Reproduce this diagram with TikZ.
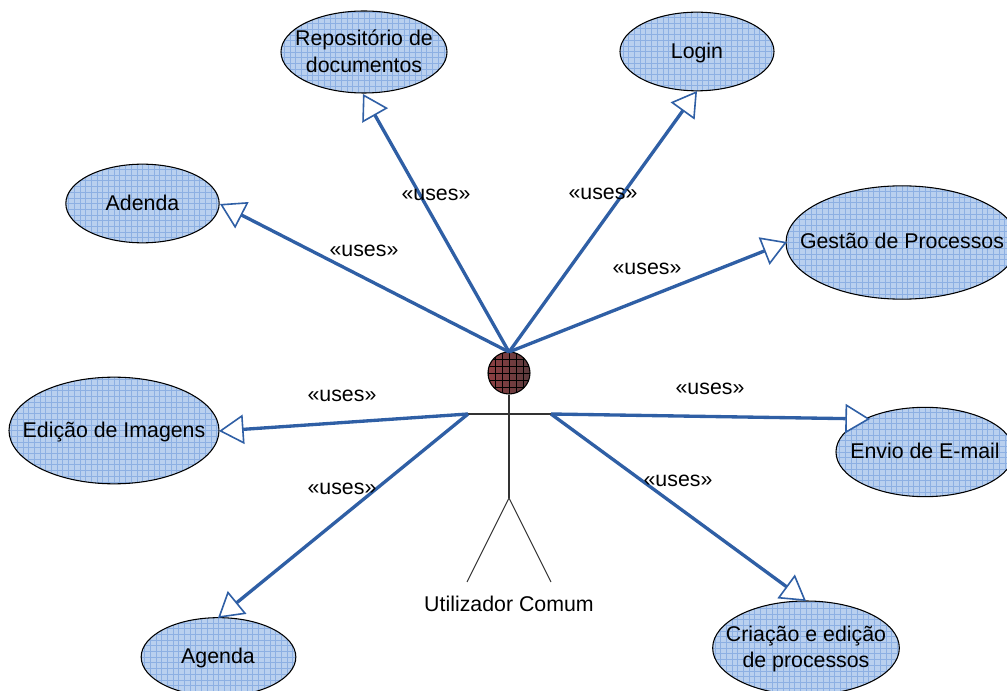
\documentclass[tikz,border=0pt]{standalone}
\usepackage{fontspec}
\setmainfont{Liberation Sans}
\usetikzlibrary{shapes.geometric,arrows.meta}
\definecolor{ucfill}{HTML}{B9D0EF}
\definecolor{ucgrid}{HTML}{8DB0E3}
\definecolor{conn}{HTML}{2F5FA5}
\definecolor{headred}{HTML}{8E3F42}
\definecolor{headmid}{HTML}{6E6A6A}
\definecolor{headdark}{HTML}{5A3A3C}
\tikzset{
  gridlines/.style={path picture={
    \begin{scope}[shift={(path picture bounding box.center)}]
      \foreach \i in {-24,...,24}{
        \draw[ucgrid,line width=0.4pt] (\i*5.7,-140) -- (\i*5.7,140);
        \draw[ucgrid,line width=0.4pt] (-140,\i*5.7) -- (140,\i*5.7);
      }
    \end{scope}}},
  usecase/.style={draw=black,line width=0.8pt,fill=ucfill,ellipse,inner sep=0pt,gridlines},
  casetext/.style={align=center,inner sep=0pt,font=\fontsize{16}{20}\selectfont},
  uses/.style={conn,line width=2.5pt,-{Triangle[open,fill=white,length=18.5pt,width=22pt,line width=1.2pt]}},
  label/.style={font=\fontsize{16}{19}\selectfont,inner sep=0pt},
  limb/.style={black!80,line width=0.8pt},
  headball/.style={circle,draw=black,line width=0.8pt,minimum size=31.5pt,inner sep=0pt,
    left color=headred,middle color=headmid,right color=headdark,path picture={
    \begin{scope}[shift={(path picture bounding box.center)}]
      \foreach \i in {-4,...,4}{
        \draw[black,line width=0.4pt] (\i*7,-30) -- (\i*7,30);
        \draw[black,line width=0.4pt] (-30,\i*7) -- (30,\i*7);
      }
    \end{scope}}}
}
\begin{document}
\begin{tikzpicture}[x=0.75pt,y=-0.75pt]
\useasboundingbox (0,0) rectangle (1007,691);
\clip (0,0) rectangle (1007,691);
\node[usecase,minimum width=124.5pt,minimum height=61.5pt] (repo) at (364,52) {};
\node[usecase,minimum width=115.5pt,minimum height=59pt] (login) at (697,51.5) {};
\node[usecase,minimum width=115pt,minimum height=59pt] (adenda) at (142.5,203.5) {};
\node[usecase,minimum width=174pt,minimum height=85pt] (gestao) at (902,242.5) {};
\node[usecase,minimum width=157.5pt,minimum height=80pt] (edicao) at (114,430.5) {};
\node[usecase,minimum width=133.5pt,minimum height=67pt] (envio) at (925,452) {};
\node[usecase,minimum width=116pt,minimum height=59pt] (agenda) at (218.5,657) {};
\node[usecase,minimum width=140pt,minimum height=70.5pt] (criacao) at (806,648) {};
\node[casetext] (repoT) at (364,51.5) {Repositório de\\documentos};
\node[casetext] (loginT) at (697,53) {Login};
\node[casetext] (adendaT) at (142.5,203) {Adenda};
\node[casetext] (gestaoT) at (902,241) {Gestão de Processos};
\node[casetext] (edicaoT) at (114,432) {Edição de Imagens};
\node[casetext] (envioT) at (925,451) {Envio de E-mail};
\node[casetext] (agendaT) at (218,658) {Agenda};
\node[casetext] (criacaoT) at (806,649) {Criação e edição\\de processos};
% actor
\node[headball] (head) at (509,373) {};
\coordinate (hip) at (509,498);
\coordinate (handL) at (468,414);
\coordinate (handR) at (551,414);
\coordinate (footL) at (467,582);
\coordinate (footR) at (551,582);
\draw[limb] (head.south) -- (hip);
\draw[limb] (handL) -- (handR);
\draw[limb] (footL) -- (hip) -- (footR);
\node[label] (actor) at (509,604) {Utilizador Comum};
% connectors
\coordinate (top) at (509,352);
\coordinate (tRepo) at (363,94);
\coordinate (tLogin) at (697,91);
\coordinate (tAdenda) at (220,204);
\coordinate (tGestao) at (787,242);
\coordinate (tEdicao) at (219,431);
\coordinate (tEnvio) at (870,419);
\coordinate (tAgenda) at (218,618);
\coordinate (tCriacao) at (806,601);
\draw[uses] (top) -- (tRepo);
\draw[uses] (top) -- (tLogin);
\draw[uses] (top) -- (tAdenda);
\draw[uses] (top) -- (tGestao);
\draw[uses] (handL) -- (tEdicao);
\draw[uses] (handR) -- (tEnvio);
\draw[uses] (handL) -- (tAgenda);
\draw[uses] (handR) -- (tCriacao);
% labels
\node[label] (l1) at (436,195) {«uses»};
\node[label] (l2) at (603,194) {«uses»};
\node[label] (l3) at (364,251) {«uses»};
\node[label] (l4) at (647,269) {«uses»};
\node[label] (l5) at (342,396) {«uses»};
\node[label] (l6) at (710,389) {«uses»};
\node[label] (l7) at (342,489) {«uses»};
\node[label] (l8) at (678,481) {«uses»};
\end{tikzpicture}
\end{document}
